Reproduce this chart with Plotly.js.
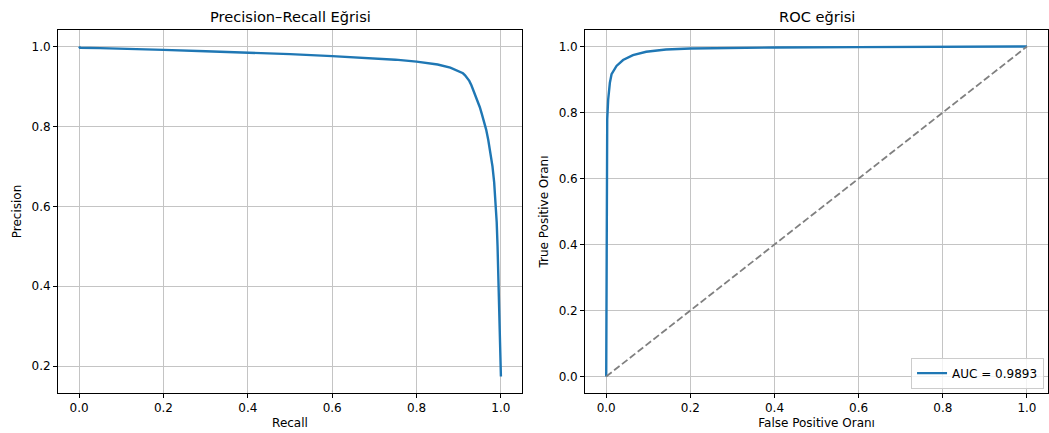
<!DOCTYPE html>
<html>
<head>
<meta charset="utf-8">
<script src="https://cdn.plot.ly/plotly-3.0.1.min.js"></script>
<style>html,body{margin:0;padding:0;background:#fff;}#chart{width:1049px;height:433px;}</style>
</head>
<body>
<div id="chart"></div>
<script>
// Precision–Recall curve
const recall = [0, 0.002, 0.05, 0.1, 0.2, 0.3, 0.4, 0.5, 0.6, 0.7, 0.75, 0.8, 0.85, 0.88, 0.9, 0.91, 0.915, 0.92, 0.925, 0.93, 0.935, 0.94, 0.945, 0.95, 0.955, 0.96, 0.965, 0.97, 0.975, 0.98, 0.984, 0.987, 0.99, 0.992, 0.994, 0.9955, 0.997, 0.9985, 1.0];
const precision = [1.0, 0.997, 0.996, 0.994, 0.9915, 0.988, 0.985, 0.981, 0.976, 0.971, 0.967, 0.962, 0.955, 0.947, 0.939, 0.933, 0.928, 0.922, 0.914, 0.903, 0.890, 0.877, 0.862, 0.848, 0.830, 0.812, 0.792, 0.766, 0.737, 0.700, 0.660, 0.620, 0.560, 0.500, 0.400, 0.350, 0.292, 0.230, 0.174];

// ROC curve
const fpr = [0, 0.0003, 0.0008, 0.0015, 0.0024, 0.0047, 0.0087, 0.0127, 0.0245, 0.04, 0.0635, 0.095, 0.142, 0.2, 0.29, 0.4, 0.6, 0.8, 1.0];
const tpr = [0, 0.35, 0.55, 0.70, 0.78, 0.84, 0.89, 0.916, 0.941, 0.959, 0.974, 0.984, 0.991, 0.994, 0.996, 0.997, 0.998, 0.999, 1.0];
const diagX = [0, 1];
const diagY = [0, 1];
const aucLabel = 'AUC = 0.9893';

const tickVals = [0, 0.2, 0.4, 0.6, 0.8, 1.0];
const tickText = ['0.0', '0.2', '0.4', '0.6', '0.8', '1.0'];

const FONT = 'DejaVu Sans, sans-serif';
const BLUE = '#1f77b4';

const traces = [
  {x: recall, y: precision, type: 'scatter', mode: 'lines', line: {color: BLUE, width: 2.4}, showlegend: false, xaxis: 'x', yaxis: 'y', hoverinfo: 'skip'},
  {x: fpr, y: tpr, type: 'scatter', mode: 'lines', name: aucLabel, line: {color: BLUE, width: 2.4}, xaxis: 'x2', yaxis: 'y2'},
  {x: diagX, y: diagY, type: 'scatter', mode: 'lines', line: {color: '#808080', width: 1.8, dash: '7px,3px'}, showlegend: false, xaxis: 'x2', yaxis: 'y2'}
];

function ax(extra) {
  return Object.assign({
    showline: true, mirror: true, linecolor: '#000', linewidth: 1,
    ticks: 'outside', ticklen: 4, tickwidth: 1, tickcolor: '#000',
    showgrid: true, gridcolor: '#c4c4c4', gridwidth: 1,
    zeroline: false,
    tickvals: tickVals, ticktext: tickText,
    tickfont: {family: FONT, size: 12, color: '#000'}
  }, extra);
}

const layout = {
  width: 1049, height: 433,
  margin: {l: 58, r: 1, t: 30, b: 40},
  paper_bgcolor: '#fff', plot_bgcolor: '#fff',
  font: {family: FONT, size: 12, color: '#000'},
  xaxis: ax({domain: [0, 0.4687], range: [-0.05, 1.05], anchor: 'y',
    title: {text: 'Recall', font: {family: FONT, size: 12, color: '#000'}, standoff: 4}}),
  yaxis: ax({domain: [0, 1], range: [0.1327, 1.0413], anchor: 'x',
    tickvals: [0.2, 0.4, 0.6, 0.8, 1.0], ticktext: ['0.2', '0.4', '0.6', '0.8', '1.0'],
    title: {text: 'Precision', font: {family: FONT, size: 12, color: '#000'}, standoff: 7}}),
  xaxis2: ax({domain: [0.5325, 1], range: [-0.05, 1.05], anchor: 'y2',
    title: {text: 'False Positive Oranı', font: {family: FONT, size: 12, color: '#000'}, standoff: 4}}),
  yaxis2: ax({domain: [0, 1], range: [-0.05, 1.05], anchor: 'x2',
    title: {text: 'True Positive Oranı', font: {family: FONT, size: 12, color: '#000'}, standoff: 7}}),
  legend: {x: 0.996, y: 0.012, xanchor: 'right', yanchor: 'bottom',
    bgcolor: 'rgba(255,255,255,0.8)', bordercolor: '#cccccc', borderwidth: 1,
    font: {family: FONT, size: 12, color: '#000'}},
  annotations: [
    {text: 'Precision–Recall Eğrisi', xref: 'x domain', yref: 'paper', x: 0.5, y: 1, xanchor: 'center', yanchor: 'bottom', yshift: 3, showarrow: false, font: {family: FONT, size: 14.6, color: '#000'}},
    {text: 'ROC eğrisi', xref: 'x2 domain', yref: 'paper', x: 0.5, y: 1, xanchor: 'center', yanchor: 'bottom', yshift: 3, showarrow: false, font: {family: FONT, size: 14.6, color: '#000'}}
  ],
  showlegend: true
};

Plotly.newPlot('chart', traces, layout, {displayModeBar: false, staticPlot: true});
</script>
</body>
</html>
